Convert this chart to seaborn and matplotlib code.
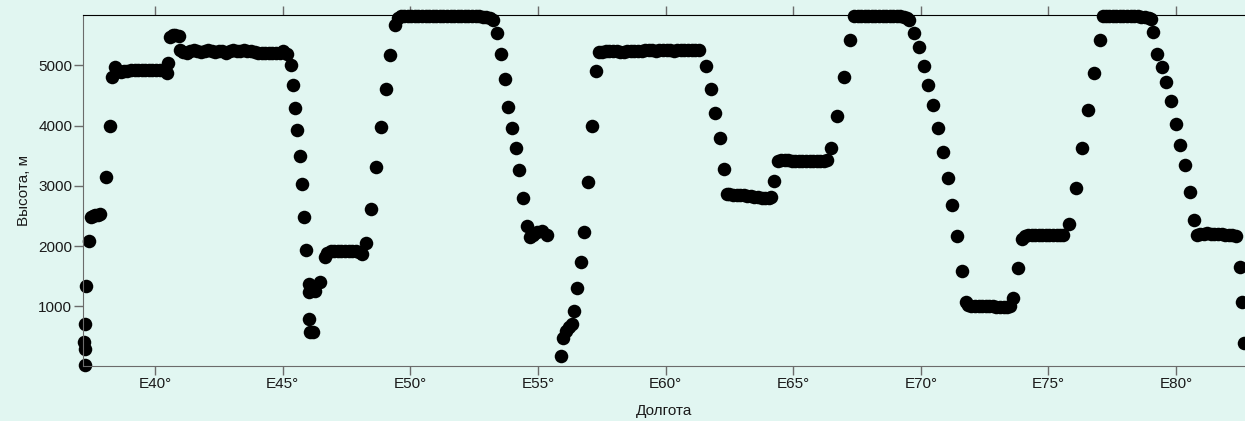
import pandas as pd
import seaborn as sns
import matplotlib.pyplot as plt

# Longitude (deg E) and altitude (m) of the track points
lon = [
    # climb from the left edge
    37.20, 37.24, 37.27, 37.26, 37.30, 37.41, 37.50, 37.58, 37.66, 37.76, 37.86,
    38.07, 38.24, 38.33,
    # ~4900 m shelf
    38.42, 38.50, 38.58, 38.68, 38.80, 38.92, 39.06, 39.20, 39.34, 39.48, 39.62,
    39.76, 39.90, 40.04, 40.18, 40.32, 40.45, 40.51,
    # ~5500 m bump
    40.60, 40.70, 40.80, 40.92,
    # ~5230 m shelf
    40.98, 41.10, 41.24, 41.38, 41.52, 41.66, 41.80, 41.94, 42.08, 42.22, 42.36,
    42.50, 42.64, 42.78, 42.92, 43.06, 43.20, 43.34, 43.48, 43.62, 43.76, 43.90,
    44.04, 44.18, 44.32, 44.46, 44.60, 44.74, 44.88, 45.02, 45.16,
    # descent
    45.32, 45.41, 45.50, 45.58, 45.69, 45.75, 45.84, 45.93,
    46.04, 46.08, 46.20, 46.02, 46.04, 46.26, 46.48,
    # ~1900 m shelf
    46.65, 46.75, 46.88, 47.02, 47.16, 47.30, 47.44, 47.58, 47.72, 47.86, 48.00,
    48.09, 48.25,
    # climb
    48.46, 48.65, 48.84, 49.03, 49.21, 49.40,
    # top shelf
    49.50, 49.62, 49.76, 49.90, 50.04, 50.18, 50.32, 50.46, 50.60, 50.74, 50.88,
    51.02, 51.16, 51.30, 51.44, 51.58, 51.72, 51.86, 52.00, 52.14, 52.28, 52.42,
    52.56, 52.70, 52.84, 52.98, 53.12, 53.25,
    # descent
    53.41, 53.56, 53.70, 53.84, 54.00, 54.14, 54.26, 54.41, 54.57,
    54.69, 54.82, 54.95, 55.15, 55.37,
    # climb
    55.90, 55.97, 56.10, 56.22, 56.32, 56.42, 56.54, 56.67, 56.79, 56.96, 57.13,
    57.29,
    # ~5240 m shelf
    57.40, 57.52, 57.66, 57.80, 57.94, 58.08, 58.22, 58.36, 58.50, 58.64, 58.78,
    58.92, 59.06, 59.20, 59.34, 59.48, 59.62, 59.76, 59.90, 60.04, 60.18, 60.32,
    60.46, 60.60, 60.74, 60.88, 61.02, 61.16, 61.30,
    # descent
    61.58, 61.77, 61.95, 62.13, 62.29,
    # ~2830 m shelf
    62.39, 62.50, 62.64, 62.78, 62.92, 63.06, 63.20, 63.34, 63.48, 63.62, 63.76,
    63.90, 64.04, 64.15, 64.24,
    # ~3420 m shelf
    64.40, 64.52, 64.66, 64.80, 64.94, 65.08, 65.22, 65.36, 65.50, 65.64, 65.78,
    65.92, 66.06, 66.20, 66.32,
    # climb
    66.49, 66.73, 66.99, 67.23,
    # top shelf
    67.40, 67.52, 67.66, 67.80, 67.94, 68.08, 68.22, 68.36, 68.50, 68.64, 68.78,
    68.92, 69.06, 69.20, 69.34, 69.46, 69.54,
    # descent
    69.73, 69.92, 70.11, 70.29, 70.49, 70.67, 70.87, 71.05, 71.23, 71.42, 71.60,
    # ~1000 m shelf
    71.76, 71.86, 71.98, 72.12, 72.26, 72.40, 72.54, 72.68, 72.82, 72.96, 73.10,
    73.24, 73.38, 73.50, 73.60, 73.81,
    # ~2180 m shelf
    73.98, 74.08, 74.20, 74.34, 74.48, 74.62, 74.76, 74.90, 75.04, 75.18, 75.32,
    75.46, 75.58,
    # climb
    75.82, 76.07, 76.30, 76.55, 76.80, 77.02,
    # top shelf
    77.12, 77.24, 77.38, 77.52, 77.66, 77.80, 77.94, 78.08, 78.22, 78.36, 78.50,
    78.64, 78.78, 78.92, 79.00,
    # descent
    79.09, 79.27, 79.45, 79.62, 79.80, 79.98, 80.17, 80.34, 80.55, 80.72,
    # ~2200 m shelf
    80.82, 80.94, 81.08, 81.22, 81.36, 81.50, 81.64, 81.78, 81.92, 82.06, 82.20,
    82.34,
    # drop at the right edge
    82.52, 82.60, 82.66,
]

alt = [
    400, 300, 30, 710, 1330, 2080, 2480, 2500, 2510, 2520, 2540,
    3145, 3994, 4810,
    4965, 4930, 4900, 4890, 4910, 4900, 4920, 4930, 4920, 4920, 4930,
    4920, 4930, 4920, 4930, 4920, 4880, 5030,
    5470, 5510, 5510, 5480,
    5250, 5220, 5210, 5230, 5260, 5230, 5220, 5240, 5250, 5230, 5220,
    5240, 5230, 5210, 5240, 5250, 5230, 5240, 5260, 5240, 5230, 5220,
    5210, 5200, 5200, 5200, 5210, 5200, 5200, 5230, 5190,
    5000, 4670, 4293, 3922, 3490, 3024, 2480, 1937,
    790, 580, 575, 1370, 1235, 1260, 1400,
    1815, 1880, 1910, 1920, 1925, 1925, 1920, 1925, 1920, 1910, 1900,
    1870, 2053,
    2619, 3306, 3972, 4604, 5170, 5669,
    5790, 5810, 5820, 5820, 5820, 5825, 5820, 5825, 5820, 5820, 5825,
    5820, 5820, 5825, 5820, 5820, 5820, 5815, 5820, 5820, 5815, 5820,
    5810, 5810, 5800, 5800, 5790, 5760,
    5531, 5187, 4776, 4316, 3967, 3622, 3261, 2796, 2341,
    2150, 2190, 2230, 2250, 2190,
    170, 480, 590, 660, 700, 915, 1300, 1730, 2240, 3070, 3990,
    4910,
    5220, 5225, 5230, 5230, 5235, 5230, 5225, 5225, 5230, 5235, 5240,
    5240, 5245, 5250, 5250, 5250, 5245, 5250, 5250, 5255, 5250, 5245,
    5250, 5250, 5255, 5250, 5250, 5250, 5250,
    4992, 4599, 4210, 3794, 3285,
    2870, 2860, 2850, 2850, 2840, 2840, 2830, 2830, 2820, 2810, 2790,
    2790, 2800, 2810, 3078,
    3420, 3430, 3430, 3425, 3420, 3415, 3410, 3410, 3405, 3410, 3410,
    3415, 3420, 3420, 3425,
    3634, 4155, 4804, 5420,
    5810, 5820, 5820, 5815, 5815, 5820, 5820, 5825, 5825, 5820, 5820,
    5815, 5810, 5810, 5800, 5790, 5750,
    5541, 5298, 4987, 4676, 4343, 3961, 3556, 3123, 2686, 2163, 1587,
    1065, 1030, 1010, 1010, 1010, 1005, 1005, 1000, 1000, 995, 990,
    985, 990, 1010, 1138, 1642,
    2120, 2170, 2180, 2190, 2190, 2190, 2190, 2185, 2185, 2180, 2180,
    2180, 2180,
    2363, 2962, 3634, 4260, 4866, 5425,
    5810, 5820, 5825, 5825, 5820, 5820, 5820, 5815, 5815, 5810, 5810,
    5805, 5800, 5790, 5770,
    5553, 5192, 4965, 4716, 4410, 4022, 3673, 3345, 2890, 2436,
    2180, 2200, 2205, 2210, 2205, 2200, 2200, 2195, 2190, 2185, 2180,
    2170,
    1659, 1065, 389,
]

x_ticks = [40, 45, 50, 55, 60, 65, 70, 75, 80]
x_tick_labels = ['E40°', 'E45°', 'E50°', 'E55°', 'E60°', 'E65°', 'E70°', 'E75°', 'E80°']
y_ticks = [1000, 2000, 3000, 4000, 5000]

bg = '#e1f6f1'
sns.set_style('ticks', {'axes.facecolor': bg, 'figure.facecolor': bg})
plt.rcParams['font.family'] = ['Liberation Sans', 'DejaVu Sans']

df = pd.DataFrame({'lon': lon, 'alt': alt})

fig = plt.figure(figsize=(12.45, 4.21), dpi=100)
ax = fig.add_axes([0.0669, 0.1314, 0.9331, 0.8323])

sns.scatterplot(data=df, x='lon', y='alt', ax=ax, color='black', s=95,
                linewidth=0, clip_on=False, legend=False)

ax.set_xlim(37.19, 82.70)
ax.set_ylim(15, 5830)
ax.set_xticks(x_ticks)
ax.set_xticklabels(x_tick_labels)
ax.set_yticks(y_ticks)

grey = '#6b6b6b'
for side in ['left', 'bottom']:
    ax.spines[side].set_color(grey)
ax.spines['top'].set_color('black')
ax.spines['right'].set_visible(False)

ax.tick_params(axis='both', labelsize=11, length=6.5, width=1, direction='out',
               color=grey, pad=1.5, labelcolor='#1a1a1a')
ax.tick_params(axis='x', top=True, pad=2)

ax.set_xlabel('Долгота', fontsize=11, labelpad=9, color='#1a1a1a')
ax.set_ylabel('Высота, м', fontsize=11, labelpad=5, color='#1a1a1a')

fig.savefig('out.png', dpi=100, facecolor=bg)
